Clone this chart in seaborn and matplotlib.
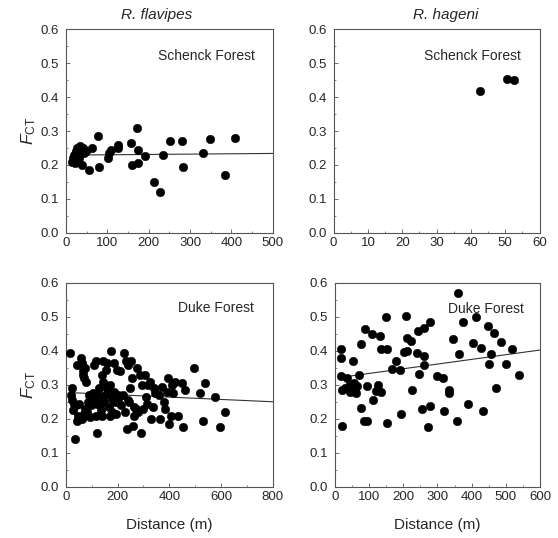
import numpy as np
import pandas as pd
import matplotlib
matplotlib.use('Agg')
from matplotlib import pyplot as plt
from matplotlib.ticker import AutoMinorLocator, MultipleLocator
import seaborn as sns

# R. flavipes, Schenck Forest
flav_sch_x = [15, 18, 20, 22, 25, 28, 30, 32, 35, 38, 40, 42, 45, 48, 55, 62, 78, 80,
              102, 105, 108, 125, 127, 157, 160, 172, 175, 175, 190, 213, 228, 235,
              252, 280, 282, 332, 347, 385, 408]
flav_sch_y = [0.21, 0.22, 0.23, 0.205, 0.24, 0.25, 0.235, 0.22, 0.255, 0.245, 0.20, 0.25,
              0.235, 0.24, 0.185, 0.25, 0.285, 0.195, 0.22, 0.235, 0.245, 0.25, 0.26,
              0.265, 0.20, 0.31, 0.245, 0.205, 0.225, 0.15, 0.12, 0.23, 0.27, 0.27,
              0.195, 0.235, 0.275, 0.17, 0.28]
flav_sch_fit = (0.229, 0.00001)   # intercept, slope

# R. hageni, Schenck Forest
hag_sch_x = [42.5, 50.5, 52.5]
hag_sch_y = [0.418, 0.452, 0.45]

# R. flavipes, Duke Forest
flav_duke_x = [17, 20, 22, 25, 28, 30, 35, 40, 45, 48, 45, 52,
               58, 62, 65, 68, 72, 75, 78, 62, 70, 75, 80, 85, 88, 92, 95, 98,
               105, 110, 115, 118, 120, 122, 125, 128, 130, 135, 138, 140, 142, 145, 148, 150, 112, 132,
               155, 158, 160, 165, 168, 170, 175, 178, 180, 185, 188, 190, 195, 198, 200, 172,
               205, 210, 215, 220, 225, 228, 232, 235, 240, 245, 248, 242,
               252, 255, 258, 262, 265, 270, 275, 280, 285, 290, 295, 298,
               305, 310, 312, 318, 325, 330, 335, 340, 345,
               360, 365, 372, 378, 382, 390, 395,
               400, 405, 410, 415, 420, 435, 448, 452, 462,
               497, 518, 530, 538, 575, 595, 615]
flav_duke_y = [0.395, 0.27, 0.29, 0.255, 0.225, 0.245, 0.14, 0.24, 0.195, 0.21, 0.36, 0.245,
               0.38, 0.365, 0.34, 0.33, 0.32, 0.35, 0.31, 0.20, 0.215, 0.23, 0.22, 0.25, 0.27, 0.265, 0.205, 0.24,
               0.275, 0.36, 0.37, 0.21, 0.245, 0.16, 0.27, 0.255, 0.29, 0.225, 0.33, 0.21, 0.31, 0.37, 0.25, 0.27, 0.26, 0.24,
               0.345, 0.365, 0.29, 0.275, 0.235, 0.30, 0.40, 0.26, 0.22, 0.365, 0.28, 0.25, 0.215, 0.345, 0.27, 0.21,
               0.265, 0.34, 0.24, 0.27, 0.395, 0.22, 0.37, 0.17, 0.36, 0.25, 0.29, 0.255,
               0.37, 0.32, 0.18, 0.235, 0.21, 0.23, 0.35, 0.22, 0.33, 0.16, 0.30, 0.23,
               0.33, 0.265, 0.245, 0.30, 0.31, 0.20, 0.235, 0.29, 0.275,
               0.27, 0.20, 0.295, 0.25, 0.23, 0.28, 0.32,
               0.185, 0.21, 0.30, 0.275, 0.31, 0.21, 0.305, 0.175, 0.285,
               0.35, 0.275, 0.195, 0.305, 0.265, 0.175, 0.22]
flav_duke_fit = (0.278, -0.0000344)

# R. hageni, Duke Forest
hag_duke_x = [18, 17, 19, 21, 21, 36, 41, 48, 54, 55, 61, 65, 72, 77, 78, 85, 89, 94, 94,
              109, 112, 119, 126, 133, 135, 135, 151, 153, 153, 167, 180, 190, 194,
              201, 209, 211, 211, 224, 227, 240, 242, 245, 255, 262, 262, 260, 277,
              279, 272, 299, 316, 318, 335, 335, 345, 359, 362, 357, 376, 389, 404,
              413, 428, 433, 449, 452, 456, 466, 471, 486, 501, 519, 539,
              30, 45, 60, 50]
hag_duke_y = [0.407, 0.38, 0.326, 0.286, 0.18, 0.321, 0.296, 0.286, 0.37, 0.306, 0.276,
              0.296, 0.328, 0.42, 0.232, 0.193, 0.464, 0.296, 0.193, 0.449, 0.257, 0.281,
              0.301, 0.444, 0.405, 0.278, 0.499, 0.405, 0.188, 0.347, 0.37, 0.345, 0.214,
              0.397, 0.503, 0.439, 0.40, 0.43, 0.286, 0.393, 0.459, 0.331, 0.229, 0.469,
              0.385, 0.36, 0.486, 0.239, 0.176, 0.326, 0.319, 0.224, 0.286, 0.276, 0.436,
              0.571, 0.392, 0.193, 0.484, 0.244, 0.422, 0.501, 0.408, 0.224, 0.474, 0.362,
              0.392, 0.454, 0.291, 0.427, 0.362, 0.405, 0.328,
              0.29, 0.28, 0.30, 0.29]
hag_duke_fit = (0.320, 0.000138)

sns.set_style('ticks')
plt.rcParams['font.family'] = ['Liberation Sans', 'DejaVu Sans']
plt.rcParams['mathtext.fontset'] = 'custom'
plt.rcParams['mathtext.rm'] = 'Liberation Sans'
plt.rcParams['mathtext.it'] = 'Liberation Sans:italic'

fig = plt.figure(figsize=(5.58, 5.38), dpi=100)
ax_tl = fig.add_axes([0.118, 0.567, 0.371, 0.379])
ax_tr = fig.add_axes([0.598, 0.567, 0.369, 0.379])
ax_bl = fig.add_axes([0.118, 0.095, 0.371, 0.379])
ax_br = fig.add_axes([0.600, 0.095, 0.368, 0.379])

panels = [
    (ax_tl, flav_sch_x, flav_sch_y, flav_sch_fit, 500, 100, 'Schenck Forest', 0.68, 0.868),
    (ax_tr, hag_sch_x, hag_sch_y, None, 60, 10, 'Schenck Forest', 0.675, 0.87),
    (ax_bl, flav_duke_x, flav_duke_y, flav_duke_fit, 800, 200, 'Duke Forest', 0.725, 0.877),
    (ax_br, hag_duke_x, hag_duke_y, hag_duke_fit, 600, 100, 'Duke Forest', 0.738, 0.873),
]

for ax, xs, ys, fit, xmax, xstep, label, tx, ty in panels:
    df = pd.DataFrame({'x': xs, 'y': ys})
    sns.scatterplot(data=df, x='x', y='y', ax=ax, color='black', s=38,
                    edgecolor='black', linewidth=0.3, zorder=3)
    if fit is not None:
        lx = np.array([min(xs), xmax])
        ldf = pd.DataFrame({'x': lx, 'y': fit[0] + fit[1] * lx})
        sns.lineplot(data=ldf, x='x', y='y', ax=ax, color='#333333', linewidth=0.8, zorder=2)
    ax.set_xlim(0, xmax)
    ax.set_ylim(0, 0.6)
    ax.xaxis.set_major_locator(MultipleLocator(xstep))
    ax.yaxis.set_major_locator(MultipleLocator(0.1))
    ax.xaxis.set_minor_locator(AutoMinorLocator(2))
    ax.yaxis.set_minor_locator(AutoMinorLocator(2))
    ax.yaxis.set_major_formatter(matplotlib.ticker.FormatStrFormatter('%.1f'))
    ax.tick_params(which='major', direction='in', length=3, width=0.6,
                   labelsize=9.5, color='#555555')
    ax.tick_params(axis='x', which='major', pad=3)
    ax.tick_params(axis='y', which='major', pad=5)
    ax.tick_params(which='minor', direction='in', length=1.5, width=0.5, color='#555555')
    for sp in ax.spines.values():
        sp.set_linewidth(0.8)
        sp.set_color('#555555')
    ax.set_xlabel('')
    ax.set_ylabel('')
    ax.text(tx, ty, label, transform=ax.transAxes, ha='center', va='center', fontsize=10)

ax_tl.text(0.44, 1.07, 'R. flavipes', transform=ax_tl.transAxes, ha='center',
           va='center', fontsize=11, style='italic')
ax_tr.text(0.545, 1.07, 'R. hageni', transform=ax_tr.transAxes, ha='center',
           va='center', fontsize=11, style='italic')

for ax in (ax_tl, ax_bl):
    ax.set_ylabel(r'$\mathit{F}_{\mathrm{CT}}$', fontsize=12.5, labelpad=1.5)
for ax in (ax_bl, ax_br):
    ax.set_xlabel('Distance (m)', fontsize=11, labelpad=11)

fig.savefig('out.png', dpi=100)
